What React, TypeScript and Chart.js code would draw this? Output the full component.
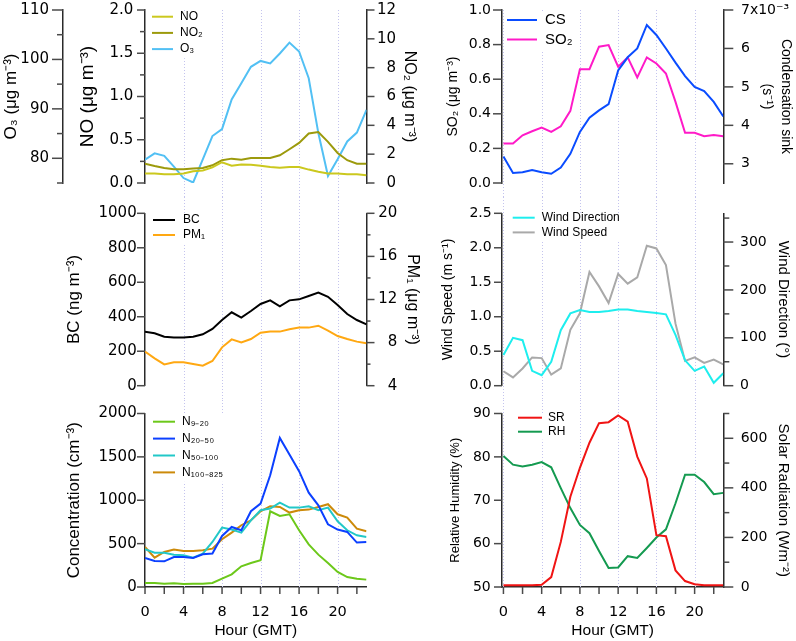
import React, { useEffect, useRef } from 'react';
import { Chart, registerables } from 'chart.js';

Chart.register(...registerables);

// hour of day (GMT)
const hours = [0, 1, 2, 3, 4, 5, 6, 7, 8, 9, 10, 11, 12, 13, 14, 15, 16, 17, 18, 19, 20, 21, 22, 23];

// top left: NO, NO2 (ug m-3), O3 (ug m-3)
const no = [0.11, 0.11, 0.1, 0.1, 0.11, 0.135, 0.145, 0.18, 0.24, 0.2, 0.215, 0.21, 0.2, 0.185, 0.175, 0.185, 0.185, 0.155, 0.13, 0.11, 0.11, 0.1, 0.1, 0.09];
const no2 = [1.34, 1.18, 1.04, 0.95, 0.95, 1.0, 1.04, 1.23, 1.58, 1.69, 1.62, 1.74, 1.74, 1.74, 1.92, 2.34, 2.78, 3.43, 3.54, 2.85, 2.08, 1.58, 1.34, 1.34];
const o3 = [79.7, 81.0, 80.5, 78.3, 76.0, 75.1, 79.8, 84.5, 85.9, 91.9, 95.2, 98.5, 99.7, 99.2, 101.2, 103.4, 101.6, 96.2, 85.1, 76.4, 79.8, 83.4, 85.2, 89.8];

// top right: condensation sink (x10^-3 s-1), SO2 (ug m-3)
const csE3 = [3.19, 2.76, 2.78, 2.84, 2.78, 2.74, 2.9, 3.26, 3.83, 4.2, 4.39, 4.55, 5.43, 5.77, 6.0, 6.61, 6.35, 6.0, 5.63, 5.28, 5.0, 4.89, 4.61, 4.23];
const so2 = [0.228, 0.228, 0.276, 0.299, 0.32, 0.295, 0.328, 0.417, 0.658, 0.658, 0.788, 0.797, 0.672, 0.726, 0.61, 0.726, 0.691, 0.633, 0.469, 0.29, 0.29, 0.27, 0.278, 0.27];

// middle left: BC (ng m-3), PM1 (ug m-3)
const bc = [313, 304, 284, 279, 279, 284, 298, 329, 381, 426, 395, 433, 474, 495, 460, 495, 501, 520, 540, 516, 468, 416, 381, 356];
const pm1 = [7.16, 6.54, 5.98, 6.17, 6.17, 6.01, 5.86, 6.29, 7.56, 8.3, 8.02, 8.33, 8.92, 9.02, 9.02, 9.23, 9.39, 9.39, 9.57, 9.11, 8.61, 8.33, 8.09, 7.93];

// middle right: wind direction (deg), wind speed (m s-1)
const windDir = [64, 100, 95, 31, 22, 50, 116, 151, 158, 154, 154, 156, 159, 159, 156, 154, 152, 149, 106, 53, 31, 40, 6, 26];
const windSpeed = [0.21, 0.12, 0.25, 0.41, 0.4, 0.16, 0.25, 0.81, 1.05, 1.65, 1.44, 1.2, 1.62, 1.48, 1.57, 2.03, 1.99, 1.75, 0.9, 0.36, 0.41, 0.33, 0.38, 0.31];

// bottom left: number concentrations (cm-3)
const n9to20 = [46, 46, 38, 42, 35, 38, 38, 46, 96, 146, 238, 277, 308, 873, 819, 838, 654, 492, 373, 277, 173, 115, 96, 85];
const n20to50 = [335, 300, 296, 346, 346, 335, 377, 385, 588, 692, 654, 873, 962, 1288, 1719, 1527, 1335, 1088, 942, 723, 662, 635, 512, 519];
const n50to100 = [435, 396, 396, 373, 365, 338, 385, 519, 685, 662, 627, 769, 885, 904, 973, 915, 915, 931, 885, 915, 758, 654, 596, 577];
const n100to825 = [462, 338, 404, 431, 415, 415, 423, 442, 550, 627, 712, 769, 873, 931, 923, 858, 885, 892, 923, 954, 838, 800, 673, 642];

// bottom right: solar radiation (W m-2), relative humidity (%)
const solarRad = [7, 7, 7, 7, 9, 40, 182, 364, 481, 582, 661, 665, 692, 667, 526, 438, 209, 205, 67, 24, 11, 7, 7, 7];
const relHum = [80.2, 78.2, 77.8, 78.2, 78.8, 77.6, 72.8, 68.2, 64.3, 62.4, 58.3, 54.4, 54.5, 57.1, 56.7, 59.0, 61.4, 63.3, 69.3, 75.9, 75.9, 74.2, 71.4, 71.7];

const leftGridHours = [4, 8, 12, 16, 20];
const rightGridHours = [0, 4, 8, 12, 16, 20];

const TEXT = '"Liberation Sans", Arial, sans-serif';
const NUM = '"DejaVu Sans", sans-serif';
const AXIS = '#2a2a2a';
const TICK = '#4a4a4a';
const GRID = '#c4c4ee';

const fig = (v: number) => (v < 10 ? '\u2007' + v : String(v));

const pts = (ys: number[]) => hours.map((h, i) => ({ x: h, y: ys[i] }));

function line(label: string, ys: number[], color: string, yAxisID: string) {
  return {
    label,
    data: pts(ys),
    borderColor: color,
    backgroundColor: color,
    borderWidth: 2,
    pointRadius: 0,
    tension: 0,
    fill: false,
    yAxisID,
  };
}

function yAxis(o: any) {
  return {
    type: 'linear',
    position: o.position,
    weight: o.weight ?? 0,
    min: o.min,
    max: o.max,
    afterFit: (s: any) => {
      s.width = o.width;
      s.paddingTop = 0;
      s.paddingBottom = 0;
      s.paddingLeft = 0;
      s.paddingRight = 0;
    },
    grid: { display: false, drawTicks: false, tickLength: 0 },
    border: { display: true, color: AXIS, width: 1.5 },
    ticks: {
      stepSize: o.step,
      includeBounds: false,
      autoSkip: false,
      padding: o.pad,
      color: '#000',
      font: { family: NUM, size: o.tickSize },
      callback: (v: any) => o.label(Number(v)),
    },
    title: {
      display: true,
      text: o.title,
      color: '#000',
      font: { family: TEXT, size: o.titleSize, lineHeight: o.lineHeight ?? 1.2 },
      padding: { top: o.titlePad, bottom: 0 },
    },
  };
}

function hourAxis(min: number, show: boolean) {
  return {
    type: 'linear',
    position: 'bottom',
    display: show,
    min,
    max: 23,
    afterFit: (s: any) => {
      if (show) s.height = 54;
      s.paddingLeft = 0;
      s.paddingRight = 0;
    },
    grid: { display: false, drawTicks: false, tickLength: 0 },
    border: { display: show, color: AXIS, width: 1.5 },
    ticks: {
      stepSize: 2,
      includeBounds: false,
      autoSkip: false,
      maxRotation: 0,
      minRotation: 0,
      padding: 17,
      color: '#000',
      font: { family: NUM, size: 14.5 },
      callback: (v: any) => (Number(v) % 4 === 0 ? String(v) : ''),
    },
    title: {
      display: show,
      text: 'Hour (GMT)',
      color: '#000',
      font: { family: TEXT, size: 15.5 },
      padding: { top: 0, bottom: 1 },
    },
  };
}

// dotted vertical hour lines
function hourGrid(at: number[], mode: string) {
  return {
    id: 'hourGrid',
    beforeDatasetsDraw(chart: any) {
      const { ctx, chartArea } = chart;
      const x = chart.scales.x;
      const y0 = mode === 'top' ? chartArea.top : 0;
      const y1 = mode === 'bottom' ? chartArea.bottom : chart.height;
      ctx.save();
      ctx.strokeStyle = GRID;
      ctx.lineWidth = 1;
      ctx.setLineDash([1, 2]);
      at.forEach((h) => {
        const px = Math.round(x.getPixelForValue(h)) + 0.5;
        ctx.beginPath();
        ctx.moveTo(px, y0);
        ctx.lineTo(px, y1);
        ctx.stroke();
      });
      ctx.restore();
    },
  };
}

// major / minor tick marks drawn from the scales' own ticks
function tickMarks(spec: Record<string, number[]>) {
  return {
    id: 'tickMarks',
    afterDraw(chart: any) {
      const { ctx } = chart;
      ctx.save();
      ctx.strokeStyle = TICK;
      ctx.lineWidth = 1.5;
      Object.keys(spec).forEach((id) => {
        const s = chart.scales[id];
        const [major, minor] = spec[id];
        s.ticks.forEach((t: any) => {
          const len = t.label === '' ? minor : major;
          const p = s.getPixelForValue(t.value);
          ctx.beginPath();
          if (s.position === 'left') {
            ctx.moveTo(s.right, p);
            ctx.lineTo(s.right - len, p);
          } else if (s.position === 'right') {
            ctx.moveTo(s.left, p);
            ctx.lineTo(s.left + len, p);
          } else {
            ctx.moveTo(p, s.top);
            ctx.lineTo(p, s.top + len);
          }
          ctx.stroke();
        });
      });
      ctx.restore();
    },
  };
}

// legend inside the plot, with a white box behind it
function insetLegend(o: any) {
  return {
    id: 'insetLegend',
    afterDatasetsDraw(chart: any) {
      const { ctx, chartArea } = chart;
      const sets = chart.data.datasets;
      ctx.save();
      ctx.font = `${o.size}px ${TEXT}`;
      const x0 = chartArea.left + o.dx;
      const tx = x0 + o.line + o.gap;
      const y0 = chartArea.top + o.dy;
      const w = Math.max(...sets.map((d: any) => ctx.measureText(d.label).width));
      ctx.fillStyle = '#fff';
      ctx.fillRect(x0 - 3, chartArea.top + 1, o.line + o.gap + w + 6, o.dy + o.row * (sets.length - 0.5));
      sets.forEach((d: any, i: number) => {
        const y = y0 + i * o.row;
        ctx.strokeStyle = d.borderColor;
        ctx.lineWidth = 2;
        ctx.beginPath();
        ctx.moveTo(x0, y);
        ctx.lineTo(x0 + o.line, y);
        ctx.stroke();
        ctx.fillStyle = '#000';
        ctx.textBaseline = 'middle';
        ctx.textAlign = 'left';
        ctx.fillText(d.label, tx, y);
      });
      ctx.restore();
    },
  };
}

function options(padding: any, scales: any) {
  return {
    animation: false,
    responsive: false,
    events: [],
    layout: { padding },
    plugins: { legend: { display: false }, tooltip: { enabled: false } },
    scales,
  };
}

const topLeft = () => ({
  type: 'line',
  data: {
    datasets: [
      line('NO', no, '#cbc81e', 'yNO'),
      line('NO\u2082', no2, '#9c9a0c', 'yNO2'),
      line('O\u2083', o3, '#52c0f4', 'yO3'),
    ],
  },
  options: options({ top: 10, bottom: 14, left: 0, right: 0 }, {
    x: hourAxis(0, false),
    yNO: yAxis({
      position: 'left', weight: 0, width: 82, min: 0, max: 2, step: 0.25, pad: 11.7, tickSize: 15,
      label: (v: number) => (Math.abs(v * 2 - Math.round(v * 2)) < 1e-9 ? v.toFixed(1) : ''),
      title: 'NO (\u03bcg m\u207b\u00b3)', titleSize: 19, titlePad: 13,
    }),
    yO3: yAxis({
      position: 'left', weight: 1, width: 63, min: 75, max: 110, step: 5, pad: 14, tickSize: 15,
      label: (v: number) => (v % 10 === 0 ? String(v) : ''),
      title: 'O\u2083 (\u03bcg m\u207b\u00b3)', titleSize: 17, titlePad: 1,
    }),
    yNO2: yAxis({
      position: 'right', width: 58.5, min: 0, max: 12, step: 2, pad: 10.5, tickSize: 15,
      label: fig,
      title: 'NO\u2082 (\u03bcg m\u207b\u00b3)', titleSize: 16, titlePad: 6.4,
    }),
  }),
  plugins: [
    hourGrid(leftGridHours, 'top'),
    tickMarks({ yNO: [8, 5], yO3: [11, 6], yNO2: [8, 8] }),
    insetLegend({ dx: 7, dy: 6.7, row: 16.2, line: 21, gap: 7, size: 12 }),
  ],
});

const topRight = () => ({
  type: 'line',
  data: {
    datasets: [
      line('CS', csE3, '#0a4cff', 'yCS'),
      line('SO\u2082', so2, '#ff1ac8', 'ySO2'),
    ],
  },
  options: options({ top: 10, bottom: 14, left: 0, right: 0 }, {
    x: hourAxis(-0.15, false),
    ySO2: yAxis({
      position: 'left', width: 77, min: 0, max: 1, step: 0.2, pad: 11, tickSize: 14,
      label: (v: number) => v.toFixed(1),
      title: 'SO\u2082 (\u03bcg m\u207b\u00b3)', titleSize: 14, titlePad: 19.6,
    }),
    yCS: yAxis({
      position: 'right', width: 72.7, min: 2.5, max: 7, step: 1, pad: 17.7, tickSize: 14,
      label: (v: number) => (v === 7 ? '7x10\u207b\u00b3' : String(v)),
      title: ['Condensation sink', '(s\u207b\u00b9)'], titleSize: 14, lineHeight: 1.4, titlePad: 0,
    }),
  }),
  plugins: [
    hourGrid(rightGridHours, 'top'),
    tickMarks({ ySO2: [9, 9], yCS: [10, 10] }),
    insetLegend({ dx: 5, dy: 10, row: 19.5, line: 30, gap: 8, size: 15 }),
  ],
});

const midLeft = () => ({
  type: 'line',
  data: {
    datasets: [
      line('BC', bc, '#000000', 'yBC'),
      line('PM\u2081', pm1, '#ffa812', 'yPM'),
    ],
  },
  options: options({ top: 16.3, bottom: 14.3, left: 0, right: 0 }, {
    x: hourAxis(0, false),
    yBC: yAxis({
      position: 'left', width: 145, min: 0, max: 1000, step: 200, pad: 8.3, tickSize: 15,
      label: (v: number) => String(v),
      title: 'BC (ng m\u207b\u00b3)', titleSize: 17, titlePad: 63.8,
    }),
    yPM: yAxis({
      position: 'right', width: 58.5, min: 4, max: 20, step: 2, pad: 11.8, tickSize: 15,
      label: (v: number) => (v % 4 === 0 ? fig(v) : ''),
      title: 'PM\u2081 (\u03bcg m\u207b\u00b3)', titleSize: 16, titlePad: 3.4,
    }),
  }),
  plugins: [
    hourGrid(leftGridHours, 'mid'),
    tickMarks({ yBC: [8, 8], yPM: [8, 4] }),
    insetLegend({ dx: 8, dy: 6.7, row: 15, line: 22, gap: 8, size: 12 }),
  ],
});

const midRight = () => ({
  type: 'line',
  data: {
    datasets: [
      line('Wind Direction', windDir, '#1eeeee', 'yWD'),
      line('Wind Speed', windSpeed, '#a9a9a9', 'yWS'),
    ],
  },
  options: options({ top: 16.3, bottom: 14.3, left: 0, right: 0 }, {
    x: hourAxis(-0.15, false),
    yWS: yAxis({
      position: 'left', width: 77, min: 0, max: 2.5, step: 0.5, pad: 10.3, tickSize: 14,
      label: (v: number) => v.toFixed(1),
      title: 'Wind Speed (m s\u207b\u00b9)', titleSize: 14, titlePad: 14.6,
    }),
    yWD: yAxis({
      position: 'right', width: 72.7, min: 0, max: 360, step: 50, pad: 16.7, tickSize: 14,
      label: (v: number) => (v % 100 === 0 ? String(v) : ''),
      title: 'Wind Direction (\u00b0)', titleSize: 15, titlePad: 4,
    }),
  }),
  plugins: [
    hourGrid(rightGridHours, 'mid'),
    tickMarks({ yWS: [8, 8], yWD: [10, 6] }),
    insetLegend({ dx: 10.7, dy: 4.4, row: 14.7, line: 22, gap: 7, size: 12 }),
  ],
});

const botLeft = () => ({
  type: 'line',
  data: {
    datasets: [
      line('N\u2089\u208b\u2082\u2080', n9to20, '#6cc81a', 'yN'),
      line('N\u2082\u2080\u208b\u2085\u2080', n20to50, '#0c40ff', 'yN'),
      line('N\u2085\u2080\u208b\u2081\u2080\u2080', n50to100, '#22c8c8', 'yN'),
      line('N\u2081\u2080\u2080\u208b\u2088\u2082\u2085', n100to825, '#cc8a0a', 'yN'),
    ],
  },
  options: options({ top: 13.5, bottom: 0, left: 0, right: 58.5 }, {
    x: hourAxis(0, true),
    yN: yAxis({
      position: 'left', width: 145, min: 0, max: 2000, step: 500, pad: 8.3, tickSize: 15,
      label: (v: number) => String(v),
      title: 'Concentration (cm\u207b\u00b3)', titleSize: 17, titlePad: 63.8,
    }),
  }),
  plugins: [
    hourGrid(leftGridHours, 'bottom'),
    tickMarks({ yN: [8, 8], x: [7, 7] }),
    insetLegend({ dx: 8, dy: 8.2, row: 16.9, line: 22, gap: 7, size: 12 }),
  ],
});

const botRight = () => ({
  type: 'line',
  data: {
    datasets: [
      line('SR', solarRad, '#f01414', 'ySR'),
      line('RH', relHum, '#149a50', 'yRH'),
    ],
  },
  options: options({ top: 13.5, bottom: 0, left: 0, right: 0 }, {
    x: hourAxis(-0.15, true),
    yRH: yAxis({
      position: 'left', width: 77, min: 50, max: 90, step: 10, pad: 11.3, tickSize: 14,
      label: (v: number) => String(v),
      title: 'Relative Humidity (%)', titleSize: 13, titlePad: 22.2,
    }),
    ySR: yAxis({
      position: 'right', width: 72.7, min: 0, max: 700, step: 100, pad: 17.4, tickSize: 14,
      label: (v: number) => (v % 200 === 0 ? String(v) : ''),
      title: 'Solar Radiation (Wm\u207b\u00b2)', titleSize: 15, titlePad: 4,
    }),
  }),
  plugins: [
    hourGrid(rightGridHours, 'bottom'),
    tickMarks({ yRH: [8, 8], ySR: [10, 6], x: [7, 7] }),
    insetLegend({ dx: 16, dy: 4.2, row: 14, line: 24, gap: 6, size: 12 }),
  ],
});

function Panel({ left, top, width, height, build }: { left: number; top: number; width: number; height: number; build: () => any }) {
  const canvasRef = useRef<HTMLCanvasElement | null>(null);

  useEffect(() => {
    const el = canvasRef.current;
    if (!el) return;
    const chart = new Chart(el, build());
    return () => {
      chart.destroy();
    };
  }, []);

  return (
    <canvas
      ref={canvasRef}
      width={width}
      height={height}
      style={{ position: 'absolute', left, top, width, height }}
    />
  );
}

export default function App() {
  return (
    <div style={{ position: 'absolute', left: 0, top: 0, width: 796, height: 641, background: '#fff', overflow: 'hidden' }}>
      <Panel left={0} top={0} width={425} height={197} build={topLeft} />
      <Panel left={425} top={0} width={371} height={197} build={topRight} />
      <Panel left={0} top={197} width={425} height={203} build={midLeft} />
      <Panel left={425} top={197} width={371} height={203} build={midRight} />
      <Panel left={0} top={400} width={425} height={241} build={botLeft} />
      <Panel left={425} top={400} width={371} height={241} build={botRight} />
    </div>
  );
}
